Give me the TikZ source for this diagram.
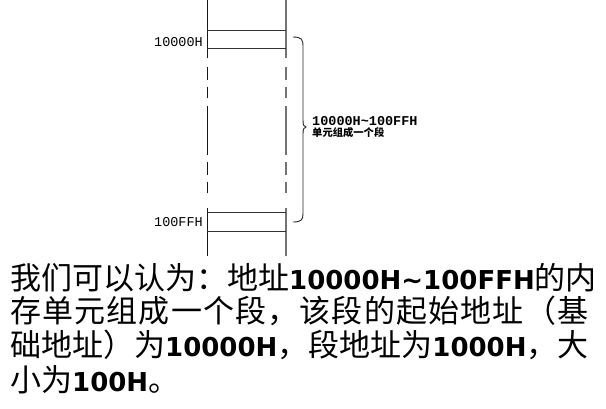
\documentclass[tikz,border=0pt]{standalone}
\usepackage{fontspec}
\setmainfont{Liberation Sans}
\newfontfamily\cjk{Noto Sans CJK SC}
\newfontfamily\addrfont{Liberation Mono}
\newfontfamily\latfont{DejaVu Sans}

\usetikzlibrary{arrows,shapes,positioning,calc}

\newcommand{\hx}[1]{{\latfont\bfseries\fontsize{26}{34}\selectfont #1}}

\begin{document}
\begin{tikzpicture}[x=1pt,y=-1pt,
  lcol/.style={draw=black!90, line width=1pt},
  rcol/.style={draw=black!55, line width=1.4pt},
  rowline/.style={draw=black!80, line width=1pt},
  addr/.style={inner sep=0pt, font=\addrfont\fontsize{13.5}{15}\selectfont},
  para/.style={inner sep=0pt, anchor=west, font=\cjk\fontsize{31}{34}\selectfont}]
\useasboundingbox (0,0) rectangle (606,408);

% Memory column
\draw[lcol] (207,0) -- (207,58);
\draw[lcol] (207,208) -- (207,256);
\draw[rcol] (286,0) -- (286,58);
\draw[rcol] (286,208) -- (286,256);
\foreach \a/\b in {67/80,87/98,106/155,162/175,182/193} {
  \draw[lcol] (207,\a) -- (207,\b);
  \draw[rcol] (286,\a) -- (286,\b);
}

% Cells
\draw[rowline] (207,30) -- (286,30);
\draw[rowline] (207,48) -- (286,48);
\draw[rowline] (207,212) -- (286,212);
\draw[rowline] (207,231) -- (286,231);

% Addresses
\node[addr, anchor=east] (first) at (203,42) {10000H};
\node[addr, anchor=east] (last) at (203,222) {100FFH};

% Brace
\draw[black!85, line width=0.9pt] (293,37) .. controls (301,37) and (303,39) .. (303,46)
  -- (303,120) .. controls (303,125) and (304,127) .. (306,127)
  .. controls (304,127) and (303,129) .. (303,134)
  -- (303,214) .. controls (303,220) and (301,222) .. (293,222);
\node[inner sep=0pt, anchor=west, font=\addrfont\bfseries\fontsize{13.5}{15}\selectfont] (range) at (312,121) {10000H\textasciitilde100FFH};
\node[inner sep=0pt, anchor=north west, font=\cjk\bfseries\fontsize{10.3}{12}\selectfont] (seg) at ($(range.south west)+(0,1.5)$) {单元组成一个段};

% Text
\node[para] (line1) at (10,278) {我们可以认为：地址\hx{10000H\textasciitilde100FFH}的内};
\node[para] (line2) at (10,311) {\addfontfeature{LetterSpace=3.8}存单元组成一个段，该段的起始地址（基};
\node[para] (line3) at (10,345) {础地址）为\hx{10000H}，段地址为\hx{1000H}，大};
\node[para] (line4) at (10,380) {小为\hx{100H}。};

\end{tikzpicture}
\end{document}
